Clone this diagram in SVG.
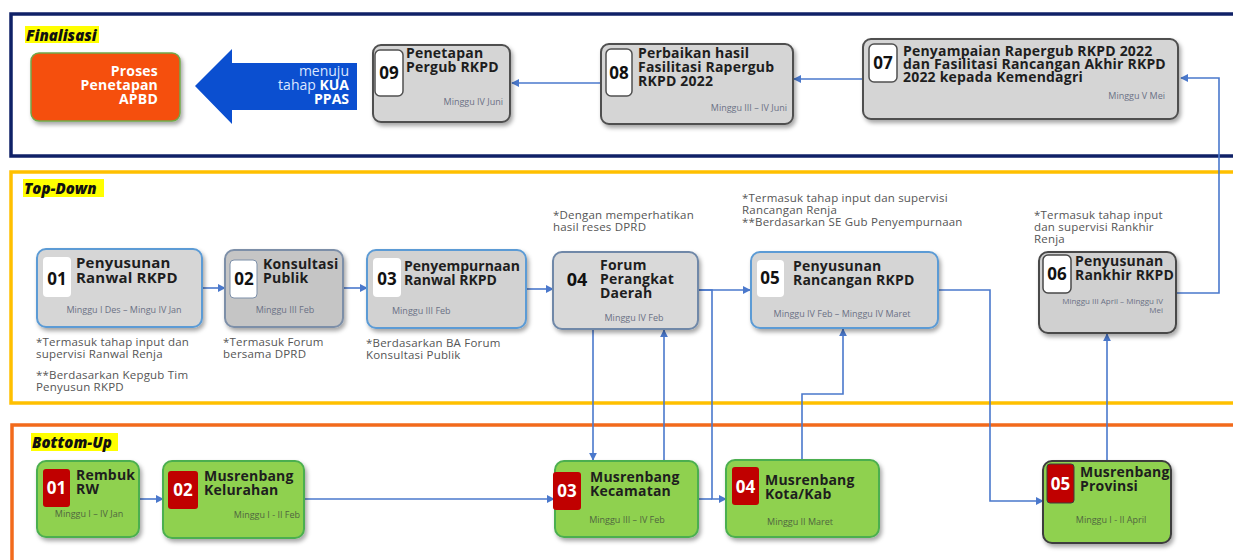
<svg xmlns="http://www.w3.org/2000/svg" width="1233" height="560" viewBox="0 0 1233 560">
<defs>
<style>
text{font-family:"Open Sans","Liberation Sans",sans-serif}
.t{font-weight:700;font-size:14px;fill:#1e1e1e;letter-spacing:0.2px}
.n{font-weight:700;font-size:17px;fill:#111;text-anchor:middle}
.nw{font-weight:700;font-size:17px;fill:#fff;text-anchor:middle}
.s{font-size:9px;fill:#6b7185}
.sg{font-size:9px;fill:#50663f}
.a{font-size:11.5px;fill:#555;letter-spacing:0.2px}
.hl{font-weight:800;font-style:italic;font-size:15px;fill:#111}
.c{fill:none;stroke:#4a78cc;stroke-width:1.6}
.gray{fill:#d5d5d5;stroke:#505050;stroke-width:2}
.blue{stroke:#5b9bd5;stroke-width:2}
.green{fill:#8fd150;stroke:#4caf50;stroke-width:2}
.red{fill:#c00000}
.wb{fill:#fff}
</style>
<filter id="sh" x="-10%" y="-10%" width="130%" height="140%">
<feDropShadow dx="2" dy="3" stdDeviation="2" flood-color="#000" flood-opacity="0.35"/>
</filter>
<marker id="ar" viewBox="0 0 10 10" refX="9" refY="5" markerWidth="8" markerHeight="8" markerUnits="userSpaceOnUse" orient="auto">
<path d="M0,0 L10,5 L0,10 z" fill="#4a78cc"/>
</marker>
</defs>
<rect x="0" y="0" width="1233" height="560" fill="#fff"/>

<g id="frames">
<rect x="11" y="14" width="1240" height="142" fill="#fff" stroke="#0f2167" stroke-width="3.5"/>
<rect x="11" y="172" width="1240" height="231" fill="#fff" stroke="#ffc000" stroke-width="3.5"/>
<rect x="12" y="425" width="1240" height="150" fill="#fff" stroke="#f26a1b" stroke-width="3.5"/>
<rect x="25" y="26" width="74" height="17" fill="#ffff00"/>
<text class="hl" x="26" y="41">Finalisasi</text>
<rect x="23" y="179" width="81" height="18" fill="#ffff00"/>
<text class="hl" x="24" y="194">Top-Down</text>
<rect x="31" y="433" width="87" height="18" fill="#ffff00"/>
<text class="hl" x="32" y="448">Bottom-Up</text>
</g>

<g id="connectors">
<path class="c" d="M601,83 H512" marker-end="url(#ar)"/>
<path class="c" d="M863,79 H794" marker-end="url(#ar)"/>
<path class="c" d="M1176,293 H1219 V78 H1181" marker-end="url(#ar)"/>
<path class="c" d="M202,288 H225" marker-end="url(#ar)"/>
<path class="c" d="M343,288 H367" marker-end="url(#ar)"/>
<path class="c" d="M526,289 H553" marker-end="url(#ar)"/>
<path class="c" d="M698,290 H750" marker-end="url(#ar)"/>
<path class="c" d="M698,290 H712 V499 H726" marker-end="url(#ar)"/>
<path class="c" d="M698,499 H712"/>
<path class="c" d="M593,329 V460" marker-end="url(#ar)"/>
<path class="c" d="M664,461 V330" marker-end="url(#ar)"/>
<path class="c" d="M802,460 V394 H843 V329" marker-end="url(#ar)"/>
<path class="c" d="M938,290 H990 V501 H1043" marker-end="url(#ar)"/>
<path class="c" d="M1107,461 V334" marker-end="url(#ar)"/>
<path class="c" d="M139,499 H163" marker-end="url(#ar)"/>
<path class="c" d="M304,499 H554" marker-end="url(#ar)"/>
</g>

<g id="apbd">
<rect x="31" y="53" width="149" height="68" rx="8" fill="#f5500f" stroke="#70a84a" stroke-width="1.5" filter="url(#sh)"/>
<text class="t" style="fill:#fff" text-anchor="end"><tspan x="158" y="76">Proses</tspan><tspan x="158" y="90">Penetapan</tspan><tspan x="158" y="104">APBD</tspan></text>
</g>

<g id="kua-arrow">
<polygon points="195,86 232,49 232,63 357,63 357,110 232,110 232,124" fill="#0b4fd0"/>
<text font-size="14" text-anchor="end" fill="#dbe6ff"><tspan x="349" y="76">menuju</tspan><tspan x="349" y="90">tahap <tspan font-weight="700" fill="#fff">KUA</tspan></tspan><tspan x="349" y="104" font-weight="700" fill="#fff">PPAS</tspan></text>
</g>

<g id="f09">
<rect class="gray" x="373" y="45" width="137" height="77" rx="8" filter="url(#sh)"/>
<rect x="375" y="50" width="28" height="46" rx="5" fill="#fff" stroke="#505050" stroke-width="1.5"/>
<text class="n" x="389" y="79">09</text>
<text class="t"><tspan x="406" y="58">Penetapan</tspan><tspan x="406" y="72">Pergub RKPD</tspan></text>
<text class="s" x="503" y="105" text-anchor="end">Minggu IV Juni</text>
</g>

<g id="f08">
<rect class="gray" x="601" y="44" width="192" height="80" rx="8" filter="url(#sh)"/>
<rect x="606" y="49" width="26" height="47" rx="5" fill="#fff" stroke="#505050" stroke-width="1.5"/>
<text class="n" x="619" y="79">08</text>
<text class="t"><tspan x="638" y="58">Perbaikan hasil</tspan><tspan x="638" y="72">Fasilitasi Rapergub</tspan><tspan x="638" y="86">RKPD 2022</tspan></text>
<text class="s" x="787" y="111" text-anchor="end">Minggu  III – IV Juni</text>
</g>

<g id="f07">
<rect class="gray" x="863" y="39" width="315" height="80" rx="8" filter="url(#sh)"/>
<rect x="869" y="44" width="28" height="38" rx="5" fill="#fff" stroke="#505050" stroke-width="1.5"/>
<text class="n" x="883" y="69">07</text>
<text class="t"><tspan x="903" y="56">Penyampaian Rapergub RKPD 2022</tspan><tspan x="903" y="69">dan Fasilitasi Rancangan Akhir RKPD</tspan><tspan x="903" y="82">2022 kepada Kemendagri</tspan></text>
<text class="s" x="1165" y="99" text-anchor="end">Minggu  V Mei</text>
</g>

<g id="td01">
<rect class="blue" x="37" y="249" width="165" height="78" rx="9" fill="#d6d6d6" filter="url(#sh)"/>
<rect class="wb" x="43" y="257" width="28" height="40" rx="4"/>
<text class="n" x="57" y="285">01</text>
<text class="t" style="font-size:15px"><tspan x="76" y="268">Penyusunan</tspan><tspan x="76" y="283">Ranwal RKPD</tspan></text>
<text class="s" x="124" y="313" text-anchor="middle">Minggu I Des – Mingu IV Jan</text>
<text class="a"><tspan x="36" y="346">*Termasuk tahap input dan</tspan><tspan x="36" y="358">supervisi Ranwal Renja</tspan><tspan x="36" y="379">**Berdasarkan Kepgub Tim</tspan><tspan x="36" y="391">Penyusun RKPD</tspan></text>
</g>

<g id="td02">
<rect x="225" y="250" width="118" height="77" rx="9" fill="#c5c5c5" stroke="#7d8fa8" stroke-width="2" filter="url(#sh)"/>
<rect x="230" y="260" width="27" height="38" rx="4" fill="#fff" stroke="#7d8fa8" stroke-width="1"/>
<text class="n" x="244" y="285">02</text>
<text class="t"><tspan x="263" y="269">Konsultasi</tspan><tspan x="263" y="283">Publik</tspan></text>
<text class="s" x="285" y="313" text-anchor="middle">Minggu III Feb</text>
<text class="a"><tspan x="223" y="346">*Termasuk Forum</tspan><tspan x="223" y="358">bersama DPRD</tspan></text>
</g>

<g id="td03">
<rect class="blue" x="367" y="250" width="159" height="78" rx="9" fill="#d2d2d2" filter="url(#sh)"/>
<rect class="wb" x="373" y="258" width="28" height="39" rx="4"/>
<text class="n" x="387" y="285">03</text>
<text class="t" style="letter-spacing:0"><tspan x="404" y="271">Penyempurnaan</tspan><tspan x="404" y="285">Ranwal RKPD</tspan></text>
<text class="s" x="392" y="314">Minggu III Feb</text>
<text class="a"><tspan x="366" y="347">*Berdasarkan BA Forum</tspan><tspan x="366" y="359">Konsultasi Publik</tspan></text>
</g>

<g id="td04">
<rect x="553" y="252" width="145" height="77" rx="9" fill="#d9d9d9" stroke="#6f88a8" stroke-width="2" filter="url(#sh)"/>
<text class="n" x="577" y="286" style="font-size:18px">04</text>
<text class="t"><tspan x="600" y="270">Forum</tspan><tspan x="600" y="284">Perangkat</tspan><tspan x="600" y="298">Daerah</tspan></text>
<text class="s" x="634" y="321" text-anchor="middle">Minggu IV Feb</text>
<text class="a"><tspan x="553" y="219">*Dengan memperhatikan</tspan><tspan x="553" y="231">hasil reses DPRD</tspan></text>
</g>

<g id="td05">
<rect class="blue" x="751" y="252" width="187" height="76" rx="9" fill="#d5d5d5" filter="url(#sh)"/>
<rect class="wb" x="757" y="260" width="27" height="37" rx="4"/>
<text class="n" x="770" y="284">05</text>
<text class="t"><tspan x="793" y="271">Penyusunan</tspan><tspan x="793" y="285">Rancangan RKPD</tspan></text>
<text class="s" x="842" y="317" text-anchor="middle">Minggu IV Feb – Minggu IV Maret</text>
<text class="a"><tspan x="742" y="202">*Termasuk tahap input dan supervisi</tspan><tspan x="742" y="214">Rancangan Renja</tspan><tspan x="742" y="226">**Berdasarkan SE Gub Penyempurnaan</tspan></text>
</g>

<g id="td06">
<rect x="1039" y="252" width="137" height="81" rx="9" fill="#d0d0d0" stroke="#484848" stroke-width="2" filter="url(#sh)"/>
<rect x="1043" y="255" width="28" height="38" rx="5" fill="#fff" stroke="#484848" stroke-width="1.5"/>
<text class="n" x="1057" y="280">06</text>
<text class="t"><tspan x="1075" y="266">Penyusunan</tspan><tspan x="1075" y="280">Rankhir RKPD</tspan></text>
<text class="s" style="font-size:8px" text-anchor="end"><tspan x="1163" y="304">Minggu III April – Minggu IV</tspan><tspan x="1163" y="313">Mei</tspan></text>
<text class="a"><tspan x="1034" y="219">*Termasuk tahap input</tspan><tspan x="1034" y="231">dan supervisi Rankhir</tspan><tspan x="1034" y="243">Renja</tspan></text>
</g>

<g id="bu01">
<rect class="green" x="37" y="461" width="102" height="76" rx="9" filter="url(#sh)"/>
<rect class="red" x="43" y="469" width="27" height="38" rx="3"/>
<text class="nw" x="56.5" y="494">01</text>
<text class="t"><tspan x="76" y="480">Rembuk</tspan><tspan x="76" y="494">RW</tspan></text>
<text class="sg" x="89" y="517" text-anchor="middle">Minggu I – IV Jan</text>
</g>

<g id="bu02">
<rect class="green" x="163" y="461" width="141" height="77" rx="9" filter="url(#sh)"/>
<rect class="red" x="168" y="471" width="30" height="38" rx="3"/>
<text class="nw" x="183" y="496">02</text>
<text class="t"><tspan x="204" y="481">Musrenbang</tspan><tspan x="204" y="495">Kelurahan</tspan></text>
<text class="sg" x="300" y="518" text-anchor="end">Minggu I - II Feb</text>
</g>

<g id="bu03">
<rect class="green" x="555" y="461" width="143" height="76" rx="9" filter="url(#sh)"/>
<rect class="red" x="553" y="472" width="28" height="38" rx="3"/>
<text class="nw" x="567" y="497">03</text>
<text class="t"><tspan x="590" y="482">Musrenbang</tspan><tspan x="590" y="496">Kecamatan</tspan></text>
<text class="sg" x="627" y="523" text-anchor="middle">Minggu III – IV Feb</text>
</g>

<g id="bu04">
<rect class="green" x="726" y="460" width="153" height="77" rx="9" filter="url(#sh)"/>
<rect class="red" x="732" y="467" width="27" height="38" rx="3"/>
<text class="nw" x="745.5" y="493">04</text>
<text class="t"><tspan x="765" y="485">Musrenbang</tspan><tspan x="765" y="499">Kota/Kab</tspan></text>
<text class="sg" x="800" y="525" text-anchor="middle">Minggu II Maret</text>
</g>

<g id="bu05">
<rect x="1043" y="461" width="128" height="82" rx="9" fill="#8fd150" stroke="#3c3c3c" stroke-width="2" filter="url(#sh)"/>
<rect class="red" x="1047" y="464" width="27" height="39" rx="3" stroke="#3c3c3c" stroke-width="1"/>
<text class="nw" x="1060.5" y="490">05</text>
<text class="t"><tspan x="1080" y="477">Musrenbang</tspan><tspan x="1080" y="491">Provinsi</tspan></text>
<text class="sg" x="1111" y="523" text-anchor="middle">Minggu I - II April</text>
</g>
</svg>
